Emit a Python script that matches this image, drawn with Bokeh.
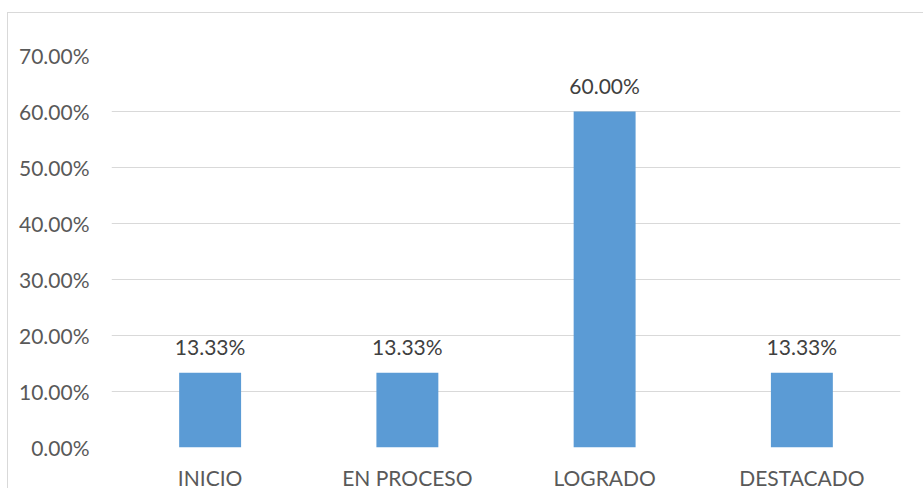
from bokeh.plotting import figure
from bokeh.models import ColumnDataSource, FixedTicker, PrintfTickFormatter, Range1d
from bokeh.core.properties import value
from bokeh.embed import file_html
from bokeh.resources import INLINE

categories = ["INICIO", "EN PROCESO", "LOGRADO", "DESTACADO"]
percentages = [13.33, 13.33, 60.00, 13.33]
y_ticks = [0, 10, 20, 30, 40, 50, 60, 70]

labels = ["%.2f%%" % v for v in percentages]
source = ColumnDataSource(data=dict(cat=categories, val=percentages, lab=labels))

FONT = "Lato"

p = figure(
    x_range=categories,
    y_range=Range1d(0, 70),
    width=916,
    height=480,
    output_backend="svg",
    toolbar_location=None,
    min_border_left=103,
    min_border_right=24,
    min_border_top=42,
    min_border_bottom=46,
    margin=(12, 0, 0, 7),
    styles={"border-left": "1px solid #d9d9d9", "border-top": "1px solid #d9d9d9"},
)
p.outline_line_color = None
p.background_fill_color = "white"
p.border_fill_color = "white"

p.vbar(x="cat", top="val", width=0.314, source=source, fill_color="#5b9bd5", line_color=None)

p.text(x="cat", y="val", text="lab", source=source,
       text_font=value(FONT), text_font_size="21px", text_color="#404040",
       text_align="center", text_baseline="alphabetic", y_offset=-26)

p.xgrid.grid_line_color = None
p.ygrid.grid_line_color = "#d9d9d9"
p.ygrid.grid_line_width = 1
p.yaxis.ticker = FixedTicker(ticks=y_ticks)
p.yaxis.formatter = PrintfTickFormatter(format="%.2f%%")

for ax in (p.xaxis[0], p.yaxis[0]):
    ax.axis_line_color = None
    ax.major_tick_line_color = None
    ax.minor_tick_line_color = None
    ax.major_tick_out = 0
    ax.major_tick_in = 0
    ax.major_label_text_font = FONT
    ax.major_label_text_font_size = "21px"
    ax.major_label_text_color = "#595959"
    ax.major_label_text_line_height = 1.0

p.yaxis.major_label_standoff = 22
p.xaxis.major_label_standoff = 17

open("out.html", "w").write(file_html(p, INLINE))
